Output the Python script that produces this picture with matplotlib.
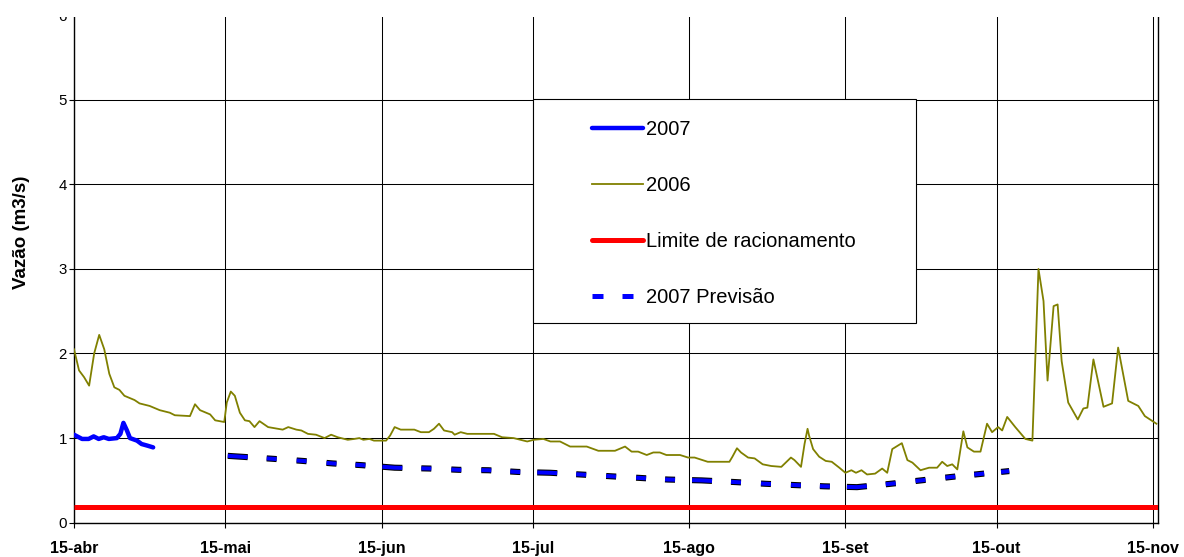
import numpy as np
import pandas as pd
import matplotlib
matplotlib.use("Agg")
import matplotlib.pyplot as plt
import matplotlib.patheffects as pe
from matplotlib.lines import Line2D
from matplotlib.patches import Rectangle

plt.rcParams['font.family'] = ['Liberation Sans', 'DejaVu Sans']
plt.rcParams['lines.scale_dashes'] = False

# --------------------------------------------------------------------------------------------
# Data (days counted from 15-abr)
# --------------------------------------------------------------------------------------------
inicio = pd.Timestamp("2007-04-15")

dias_2007 = [0, 1.6, 2.9, 3.9, 4.9, 5.9, 6.9, 8.5, 9.2, 9.8, 10.5, 11.1, 12.5, 13.4, 14.6, 15.7]
vazao_2007 = [1.04, 0.99, 0.99, 1.02, 0.99, 1.01, 0.99, 1.00, 1.05, 1.18, 1.09, 1.00, 0.97, 0.93, 0.91, 0.89]

dias_2006 = [0, 1, 2, 3, 4, 5, 6, 7, 8, 9, 10, 12, 13, 15, 17, 19, 20, 23, 24, 25, 27, 28, 29.8,
             30.3, 31.1, 31.9, 32.9, 33.9, 34.8, 35.8, 36.8, 38.5, 40.5, 41.4, 42.5, 44.1, 45.1, 46.4,
             48, 49.7, 51, 52.3, 54.3, 55.6, 56.6, 57.4, 58.6, 59.5, 61.9, 62.7, 63.6, 64.8, 67.5,
             68.8, 70.4, 71.4, 72.4, 73.4, 75.0, 75.5, 76.7, 78, 83.3, 84.9, 87.2, 89.9, 91.2, 93.1,
             94.5, 96.4, 98.4, 101.7, 104, 107.3, 109.3, 110.6, 111.9, 113.6, 114.9, 116.2, 117.5,
             120.2, 121.8, 123.1, 125.7, 130, 130.6, 131.5, 132.3, 133.7, 135, 136.6, 138.3, 140.3,
             142.2, 142.9, 144.2, 144.9, 145.5, 145.8, 146.6, 147.8, 149.1, 150.3, 151.8, 153, 154.2,
             155.1, 156.2, 157.3, 158.9, 160.3, 161.3, 162.3, 164.2, 165.3, 166.3, 167.9, 169.6,
             171.2, 172.2, 173.2, 174.2, 175.2, 176.4, 177.2, 178.5, 179.8, 181.1, 182.1, 183.3,
             184.1, 185.1, 186.7, 188.7, 190.1, 191.3, 192.3, 193.1, 194.3, 195.1, 195.9, 197.2,
             199.1, 200.2, 201.0, 202.2, 204.2, 205.9, 207.1, 209.1, 211.1, 212.4, 214.7]
vazao_2006 = [2.05, 1.80, 1.72, 1.62, 2.0, 2.22, 2.05, 1.76, 1.60, 1.57, 1.50, 1.45, 1.41, 1.38, 1.33,
              1.30, 1.27, 1.26, 1.40, 1.33, 1.28, 1.21, 1.19,
              1.42, 1.55, 1.50, 1.30, 1.21, 1.20, 1.13, 1.20, 1.13, 1.11, 1.10, 1.13, 1.10, 1.09, 1.05,
              1.04, 1.00, 1.04, 1.01, 0.98, 0.99, 1.00, 0.98, 0.99, 0.97, 0.97, 1.03, 1.13, 1.10, 1.10,
              1.07, 1.07, 1.11, 1.17, 1.09, 1.07, 1.04, 1.07, 1.05, 1.05, 1.01, 1.00, 0.96, 0.98, 0.99,
              0.96, 0.96, 0.90, 0.90, 0.85, 0.85, 0.90, 0.84, 0.84, 0.80, 0.83, 0.83, 0.80,
              0.80, 0.77, 0.77, 0.72, 0.72, 0.78, 0.88, 0.83, 0.77, 0.76, 0.69, 0.67, 0.66,
              0.77, 0.74, 0.66, 0.93, 1.11, 1.03, 0.87, 0.78, 0.73, 0.72, 0.65, 0.59, 0.62,
              0.59, 0.62, 0.57, 0.58, 0.64, 0.59, 0.87, 0.94, 0.74, 0.71, 0.62, 0.65,
              0.65, 0.72, 0.67, 0.69, 0.63, 1.08, 0.89, 0.84, 0.84, 1.17, 1.07, 1.13,
              1.09, 1.25, 1.13, 0.99, 0.97, 3.0, 2.62, 1.68, 2.56, 2.58, 1.91, 1.42,
              1.22, 1.35, 1.36, 1.93, 1.37, 1.41, 2.07, 1.44, 1.38, 1.26, 1.17]

dias_previsao = [30.5, 39.5, 45.4, 51.4, 57.1, 63.6, 70.6, 76.3, 82.2, 88, 94.5, 100.4, 106.1, 112,
                 117.8, 124.5, 131.2, 137.1, 142.9, 148.8, 155.3, 162, 168, 173.9, 179.6, 185.5]
vazao_previsao = [0.79, 0.755, 0.73, 0.70, 0.68, 0.65, 0.64, 0.625, 0.62, 0.60, 0.59, 0.57, 0.55,
                  0.53, 0.51, 0.50, 0.48, 0.46, 0.445, 0.43, 0.42, 0.46, 0.50, 0.54, 0.575, 0.61]

limite_racionamento = 0.18

tick_datas = ["2007-04-15", "2007-05-15", "2007-06-15", "2007-07-15",
              "2007-08-15", "2007-09-15", "2007-10-15", "2007-11-15"]
tick_labels = ["15-abr", "15-mai", "15-jun", "15-jul", "15-ago", "15-set", "15-out", "15-nov"]


def to_dates(dias):
    return inicio + pd.to_timedelta(np.array(dias, dtype=float), unit="D")


# --------------------------------------------------------------------------------------------
# Figure
# --------------------------------------------------------------------------------------------
fig = plt.figure(figsize=(11.84, 5.57), dpi=100)
ax = fig.add_axes([0.0625, 0.0616, 0.978 - 0.0625, 0.9729 - 0.0616])

x_ini = inicio
x_fim = pd.Timestamp("2007-11-16")

# limit line across the whole period
ax.plot([x_ini, x_fim], [limite_racionamento] * 2, color="#FF0000", lw=3.6,
        solid_capstyle="butt", zorder=3)

ax.plot(to_dates(dias_2006), vazao_2006, color="#808000", lw=1.3,
        solid_joinstyle="round", zorder=3)

ax.plot(to_dates(dias_2007), vazao_2007, color="#0000FF", lw=3.2,
        solid_joinstyle="round", solid_capstyle="round", zorder=4)

# forecast: blue dashes outlined in black, long dash every month
px = 0.72
dash_seq = tuple(v * px for v in (20, 19, 10, 20, 10, 20, 10, 19, 10, 17))
prev, = ax.plot(to_dates(dias_previsao), vazao_previsao, color="#0000FF", lw=2.9,
                linestyle=(0, dash_seq), dash_capstyle="butt", zorder=4)
prev.set_path_effects([pe.Stroke(linewidth=4.4, foreground="black"), pe.Normal()])

# axes
ax.set_xlim(x_ini, x_fim)
ax.set_ylim(0, 6)
ax.set_yticks(range(0, 7))
ax.set_xticks(pd.to_datetime(tick_datas))
ax.set_xticklabels(tick_labels, fontweight="bold", fontsize=11.5)
ax.tick_params(axis="x", length=3.6, width=0.8, pad=9.5, color="black")
ax.tick_params(axis="y", length=3.6, width=0.8, pad=1.5, labelsize=10.8, color="black")

ax.grid(True, color="black", lw=0.75)
ax.set_axisbelow(True)
for side in ["left", "bottom", "right", "top"]:
    ax.spines[side].set_color("black")
    ax.spines[side].set_linewidth(1.0)

ax.set_ylabel("Vazão (m3/s)", fontweight="bold", fontsize=13.5)
ax.yaxis.set_label_coords(-0.041, 0.573)

# legend box
ax.add_patch(Rectangle((0.4237, 0.3928), 0.3531, 0.4413, transform=ax.transAxes,
                       facecolor="white", edgecolor="black", lw=0.8, zorder=5))

handles = [
    Line2D([], [], color="#0000FF", lw=3.2, solid_capstyle="round"),
    Line2D([], [], color="#808000", lw=1.3),
    Line2D([], [], color="#FF0000", lw=3.6, solid_capstyle="round"),
    Line2D([], [], color="#0000FF", lw=3.6, linestyle=(0, (11 * px, 19 * px)),
           dash_capstyle="butt"),
]
labels = ["2007", "2006", "Limite de racionamento", "2007 Previsão"]
leg = ax.legend(handles, labels, loc="upper left", bbox_to_anchor=(0.4776, 0.793),
                frameon=False, fontsize=14.5, handlelength=2.53, handletextpad=0.16,
                labelspacing=1.84, borderpad=0, borderaxespad=0)
leg.set_zorder(6)

# top strip of the plot is cut off
fig.add_artist(Rectangle((0, 1 - 16.5 / 557), 1, 16.5 / 557, transform=fig.transFigure,
                         facecolor="white", edgecolor="none", zorder=100))

fig.savefig("out.png", dpi=100)
